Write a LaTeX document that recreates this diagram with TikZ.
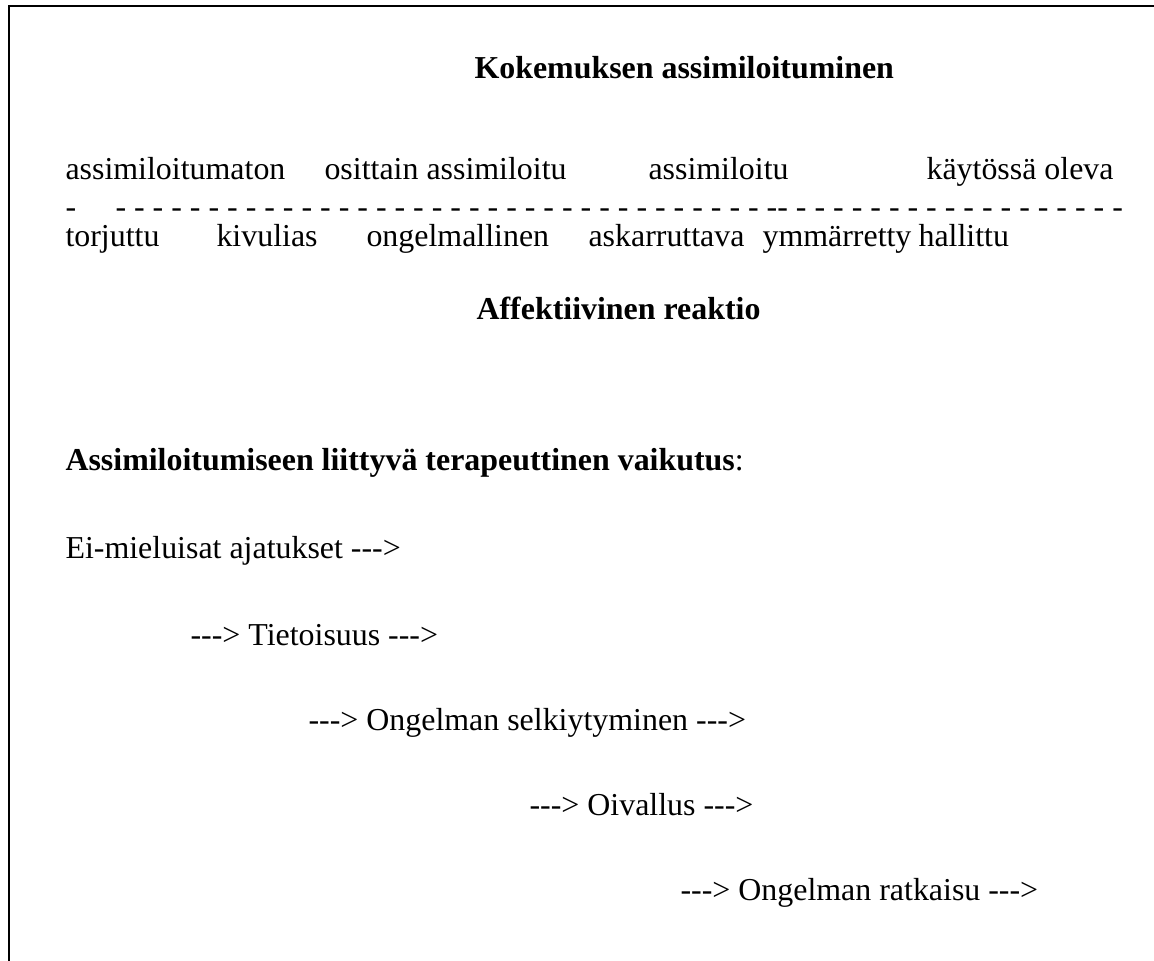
\documentclass[tikz,border=0pt]{standalone}
\usepackage{fontspec}
\setmainfont{Liberation Serif}[Ligatures=TeXOff]
\tikzset{
  txt/.style={anchor=base west,inner sep=0pt,font=\fontsize{12}{14}\selectfont},
  otsikko/.style={txt,font=\fontsize{12}{14}\selectfont\bfseries},
  kehys/.style={line width=0.75pt}
}
\begin{document}
\begin{tikzpicture}[x=0.376pt,y=-0.376pt]
    \useasboundingbox (0,0) rectangle (1154,961);

    % 画边框
    \coordinate (ka) at (9,961);
    \coordinate (kb) at (9,6);
    \coordinate (kc) at (1154,6);
    \draw [kehys] (ka) -- (kb) -- (kc);

    % 标题
    \node [otsikko] (kokemus) at (474,79) {Kokemuksen assimiloituminen};

    % 第一行
    \node [txt] (a1) at (65,180) {assimiloitumaton};
    \node [txt] (a2) at (324,180) {osittain assimiloitu};
    \node [txt] (a3) at (648,180) {assimiloitu};
    \node [txt] (a4) at (926,180) {käytössä oleva};

    % 虚线行
    \node [txt] (v0) at (65,218) {-};
    \node [txt] (v1) at (115,218) {- - - - - %
- - - - - %
- - - - - %
- - - - - %
- - - - - %
- - - - - %
- - - - - %
-- %
- - - - - - %
- - - - - - %
- - - - - -};

    % 第二行
    \node [txt] (r1) at (65,247) {torjuttu};
    \node [txt] (r2) at (216,247) {kivulias};
    \node [txt] (r3) at (366,247) {ongelmallinen};
    \node [txt] (r4) at (588,247) {askarruttava};
    \node [txt] (r5) at (762,247) {ymmärretty};
    \node [txt] (r6) at (918,247) {hallittu};

    \node [otsikko] (affekti) at (476,320) {Affektiivinen reaktio};

    % 下半部分
    \node [txt] (vaikutus) at (65,471) {\textbf{Assimiloitumiseen liittyvä terapeuttinen vaikutus}:};
    \node [txt] (s1) at (65,559) {Ei-mieluisat ajatukset --->};
    \node [txt] (s2) at (190,645) {---> Tietoisuus --->};
    \node [txt] (s3) at (308,730) {---> Ongelman selkiytyminen --->};
    \node [txt] (s4) at (529,815) {---> Oivallus --->};
    \node [txt] (s5) at (680,900) {---> Ongelman ratkaisu --->};
\end{tikzpicture}
\end{document}
